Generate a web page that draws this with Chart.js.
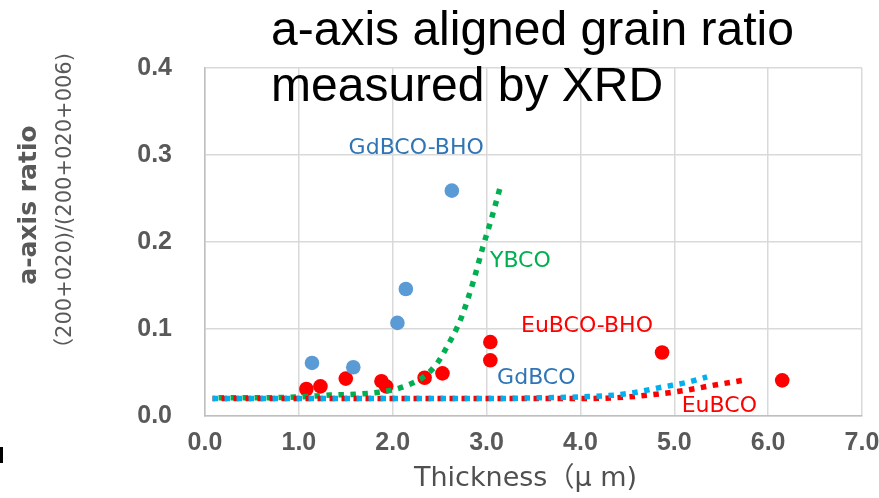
<!DOCTYPE html>
<html>
<head>
<meta charset="utf-8">
<script src="https://cdn.jsdelivr.net/npm/chart.js@4/dist/chart.umd.min.js"></script>
<style>
  html, body { margin: 0; padding: 0; background: #fff; }
  #wrap { position: relative; width: 879px; height: 498px; }
</style>
</head>
<body>
<div id="wrap"><canvas id="grainChart" width="879" height="498"></canvas></div>
<script>
// x: film thickness (um), y: a-axis ratio
const gdbcoBhoX = [2.63, 2.14, 2.05, 1.14, 1.58];
const gdbcoBhoY = [0.259, 0.146, 0.107, 0.061, 0.056];

const eubcoBhoX = [1.08, 1.23, 1.50, 1.88, 1.93, 2.34, 2.53, 3.04, 3.04, 4.87, 6.15];
const eubcoBhoY = [0.031, 0.034, 0.043, 0.040, 0.034, 0.044, 0.049, 0.085, 0.064, 0.073, 0.041];

// trend curves
const ybcoX = [0.08, 0.6, 1.0, 1.33, 1.6, 1.83, 2.0, 2.15, 2.33, 2.47, 2.57, 2.72, 2.86, 2.96, 3.05, 3.14];
const ybcoY = [0.021, 0.021, 0.022, 0.024, 0.025, 0.027, 0.030, 0.035, 0.045, 0.060, 0.078, 0.110, 0.155, 0.194, 0.226, 0.261];

const gdbcoX = [0.08, 1.0, 2.0, 3.0, 3.6, 4.0, 4.45, 4.91, 5.15, 5.35];
const gdbcoY = [0.020, 0.020, 0.020, 0.020, 0.021, 0.022, 0.025, 0.034, 0.039, 0.045];

const eubcoX = [0.08, 1.0, 2.0, 3.0, 4.0, 4.52, 5.09, 5.4, 5.73];
const eubcoY = [0.020, 0.020, 0.020, 0.020, 0.020, 0.022, 0.029, 0.035, 0.041];

const xTicks = [0, 1, 2, 3, 4, 5, 6, 7];
const yTicks = [0, 0.1, 0.2, 0.3, 0.4];

const toPoints = (xs, ys) => xs.map((x, i) => ({ x: x, y: ys[i] }));

const GREY = '#595959';

// series name labels, placed in data units
const seriesLabels = [
    { text: 'GdBCO-BHO', x: 2.25, y: 0.308, color: '#2E75B6' },
    { text: 'YBCO', x: 3.36, y: 0.178, color: '#00B050' },
    { text: 'EuBCO-BHO', x: 4.07, y: 0.103, color: '#FF0000' },
    { text: 'GdBCO', x: 3.53, y: 0.043, color: '#2E75B6' },
    { text: 'EuBCO', x: 5.48, y: 0.011, color: '#FF0000' }
];

const textPlugin = {
    id: 'texts',
    afterDatasetsDraw(chart) {
        const ctx = chart.ctx;
        const xs = chart.scales.x, ys = chart.scales.y;
        ctx.save();
        ctx.textAlign = 'center';
        ctx.textBaseline = 'middle';
        ctx.font = '22px "DejaVu Sans", sans-serif';
        seriesLabels.forEach(l => {
            ctx.fillStyle = l.color;
            ctx.fillText(l.text, xs.getPixelForValue(l.x), ys.getPixelForValue(l.y));
        });
        ctx.restore();
    },
    afterDraw(chart) {
        const ctx = chart.ctx;
        const area = chart.chartArea;
        ctx.save();

        // title
        ctx.fillStyle = '#000';
        ctx.font = '48px "Liberation Sans", Arial, sans-serif';
        ctx.textAlign = 'left';
        ctx.textBaseline = 'alphabetic';
        ctx.fillText('a-axis aligned grain ratio', 271, 45);
        ctx.fillText('measured by XRD', 271, 101);

        // y axis titles
        ctx.fillStyle = GREY;
        ctx.textAlign = 'center';
        ctx.textBaseline = 'middle';
        ctx.save();
        ctx.translate(29, 205);
        ctx.rotate(-Math.PI / 2);
        ctx.font = 'bold 25px "DejaVu Sans", sans-serif';
        ctx.fillText('a-axis ratio', 0, 0);
        ctx.restore();

        ctx.save();
        ctx.translate(66, 206);
        ctx.rotate(-Math.PI / 2);
        ctx.font = '21px "DejaVu Sans", "Noto Sans CJK JP", sans-serif';
        ctx.fillText('（200+020)/(200+020+006)', 0, 0);
        ctx.restore();

        // x axis title
        ctx.font = '27px "DejaVu Sans", "Noto Sans CJK JP", sans-serif';
        ctx.fillStyle = '#505050';
        ctx.fillText('Thickness（μ m)', (area.left + area.right) / 2 - 8, 479);

        // stray edge mark
        ctx.fillStyle = '#000';
        ctx.fillRect(0, 447, 3, 16);
        ctx.restore();
    }
};

const trend = (label, xs, ys, color, offset) => ({
    type: 'scatter',
    label: label,
    data: toPoints(xs, ys),
    showLine: true,
    borderColor: color,
    borderWidth: 5.5,
    borderDash: [5.5, 6.5],
    borderDashOffset: offset,
    borderCapStyle: 'butt',
    cubicInterpolationMode: 'monotone',
    pointRadius: 0,
    order: 0
});

const dots = (label, xs, ys, color) => ({
    type: 'scatter',
    label: label,
    data: toPoints(xs, ys),
    backgroundColor: color,
    borderColor: color,
    pointRadius: 7.3,
    pointBorderWidth: 0,
    order: 1
});

new Chart(document.getElementById('grainChart'), {
    type: 'scatter',
    data: {
        datasets: [
            dots('GdBCO-BHO', gdbcoBhoX, gdbcoBhoY, '#5B9BD5'),
            dots('EuBCO-BHO', eubcoBhoX, eubcoBhoY, '#FF0000'),
            trend('GdBCO', gdbcoX, gdbcoY, '#00B0F0', 0),
            trend('EuBCO', eubcoX, eubcoY, '#FF0000', 3),
            trend('YBCO', ybcoX, ybcoY, '#00B050', 6)
        ]
    },
    options: {
        responsive: false,
        animation: false,
        layout: { padding: { left: 0, top: 68, right: 17, bottom: 0 } },
        plugins: {
            legend: { display: false },
            tooltip: { enabled: false }
        },
        scales: {
            x: {
                type: 'linear',
                min: 0,
                max: 7,
                afterFit: s => { s.height = 82; s.paddingLeft = 0; s.paddingRight = 0; },
                afterBuildTicks: s => { s.ticks = xTicks.map(v => ({ value: v })); },
                grid: { color: '#D9D9D9', lineWidth: 1.5, drawTicks: false },
                border: { color: '#BFBFBF', width: 1.5 },
                ticks: {
                    padding: 12,
                    color: GREY,
                    font: { family: '"Liberation Sans", Arial, sans-serif', size: 25, weight: 'bold' },
                    callback: v => v.toFixed(1)
                }
            },
            y: {
                min: 0,
                max: 0.4,
                afterFit: s => { s.width = 205; s.paddingTop = 0; s.paddingBottom = 0; },
                afterBuildTicks: s => { s.ticks = yTicks.map(v => ({ value: v })); },
                grid: { color: '#D9D9D9', lineWidth: 1.5, drawTicks: false },
                border: { color: '#BFBFBF', width: 1.5 },
                ticks: {
                    padding: 33,
                    color: GREY,
                    font: { family: '"Liberation Sans", Arial, sans-serif', size: 25, weight: 'bold' },
                    callback: v => v.toFixed(1)
                }
            }
        }
    },
    plugins: [textPlugin]
});
</script>
</body>
</html>
